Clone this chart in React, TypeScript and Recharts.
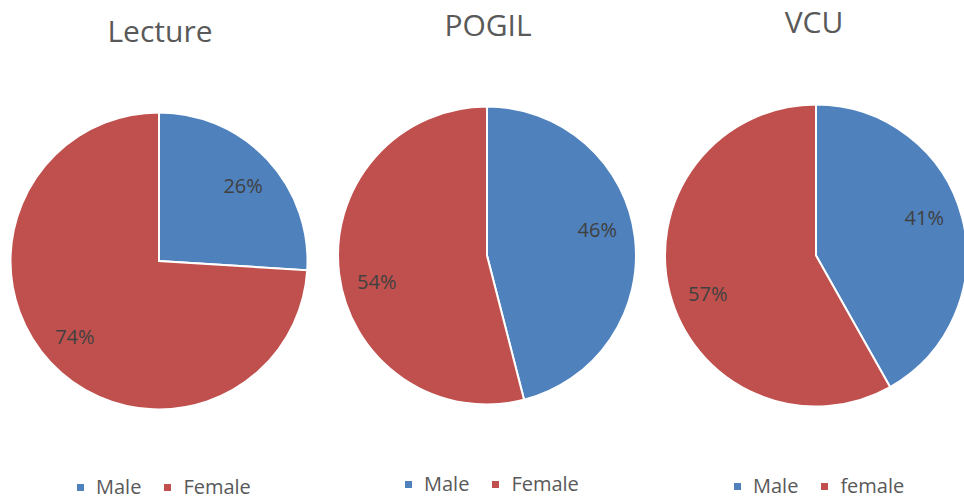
import { Legend, Pie, PieChart, Cell } from "recharts";

const categories = ["Male", "Female"];
const vcuCategories = ["Male", "female"];
const titles = ["Lecture", "POGIL", "VCU"];
const lectureValues = [26, 74];
const pogilValues = [46, 54];
const vcuValues = [41, 57];

const COLORS = ["#4F81BD", "#C0504D"];
const FONT = "'Open Sans', 'Noto Sans', sans-serif";
const RADIAN = Math.PI / 180;

type PanelSpec = {
  title: string;
  names: string[];
  values: number[];
  left: number;
  width: number;
  cx: number;
  cy: number;
  r: number;
  labelTurn: number; // clockwise nudge of the data labels, degrees
  titleX: number;
  titleY: number;
  legendLeft: number;
  legendTop: number;
};

const panels: PanelSpec[] = [
  {
    title: titles[0],
    names: categories,
    values: lectureValues,
    left: 0,
    width: 323,
    cx: 159,
    cy: 261,
    r: 148.5,
    labelTurn: 1.4,
    titleX: 160,
    titleY: 42,
    legendLeft: 77,
    legendTop: 478,
  },
  {
    title: titles[1],
    names: categories,
    values: pogilValues,
    left: 323,
    width: 328,
    cx: 164,
    cy: 255.5,
    r: 149,
    labelTurn: -6,
    titleX: 165,
    titleY: 36,
    legendLeft: 82,
    legendTop: 475,
  },
  {
    title: titles[2],
    names: vcuCategories,
    values: vcuValues,
    left: 651,
    width: 313,
    cx: 165,
    cy: 255.5,
    r: 151,
    labelTurn: -4.7,
    titleX: 163,
    titleY: 33,
    legendLeft: 83,
    legendTop: 477,
  },
];

const makeLabel = (turn: number) => (props: any) => {
  const { cx, cy, midAngle, outerRadius, value } = props;
  const rr = outerRadius * 0.76;
  const a = (midAngle - turn) * RADIAN;
  const x = cx + rr * Math.cos(-a);
  const y = cy + rr * Math.sin(-a);
  return (
    <text
      x={x}
      y={y}
      fill="#404040"
      fontSize={20}
      fontFamily={FONT}
      textAnchor="middle"
      dominantBaseline="central"
    >
      {`${value}%`}
    </text>
  );
};

const LegendContent = ({ names }: { names: string[] }) => (
  <div
    style={{
      display: "flex",
      alignItems: "center",
      fontFamily: FONT,
      fontSize: 20,
      lineHeight: "18px",
      color: "#595959",
      whiteSpace: "nowrap",
    }}
  >
    {names.map((n, i) => (
      <span
        key={n}
        style={{ display: "flex", alignItems: "center", marginRight: 23 }}
      >
        <span
          style={{
            width: 7,
            height: 7,
            background: COLORS[i],
            marginRight: 12,
            display: "inline-block",
          }}
        />
        <span>{n}</span>
      </span>
    ))}
  </div>
);

const Panel = ({ p }: { p: PanelSpec }) => {
  const data = p.names.map((name, i) => ({ name, value: p.values[i] }));
  return (
    <div style={{ position: "absolute", left: p.left, top: 0 }}>
      <PieChart
        width={p.width}
        height={498}
        margin={{ top: 0, right: 0, bottom: 0, left: 0 }}
      >
        <text
          x={p.titleX}
          y={p.titleY}
          textAnchor="middle"
          fontSize={30}
          fontFamily={FONT}
          fill="#595959"
        >
          {p.title}
        </text>
        <Pie
          data={data}
          dataKey="value"
          nameKey="name"
          cx={p.cx}
          cy={p.cy}
          outerRadius={p.r}
          startAngle={90}
          endAngle={-270}
          stroke="#FFFFFF"
          strokeWidth={2}
          label={makeLabel(p.labelTurn)}
          labelLine={false}
          isAnimationActive={false}
        >
          {data.map((d, i) => (
            <Cell key={d.name} fill={COLORS[i]} />
          ))}
        </Pie>
        <Legend
          content={() => <LegendContent names={p.names} />}
          wrapperStyle={{
            position: "absolute",
            left: p.legendLeft,
            top: p.legendTop,
            width: "auto",
          }}
        />
      </PieChart>
    </div>
  );
}

export default function App() {
  return (
    <div
      style={{
        position: "absolute",
        left: 0,
        top: 0,
        width: 964,
        height: 498,
        background: "#FFFFFF",
        overflow: "hidden",
      }}
    >
      {panels.map((p) => (
        <Panel key={p.title} p={p} />
      ))}
    </div>
  );
}
